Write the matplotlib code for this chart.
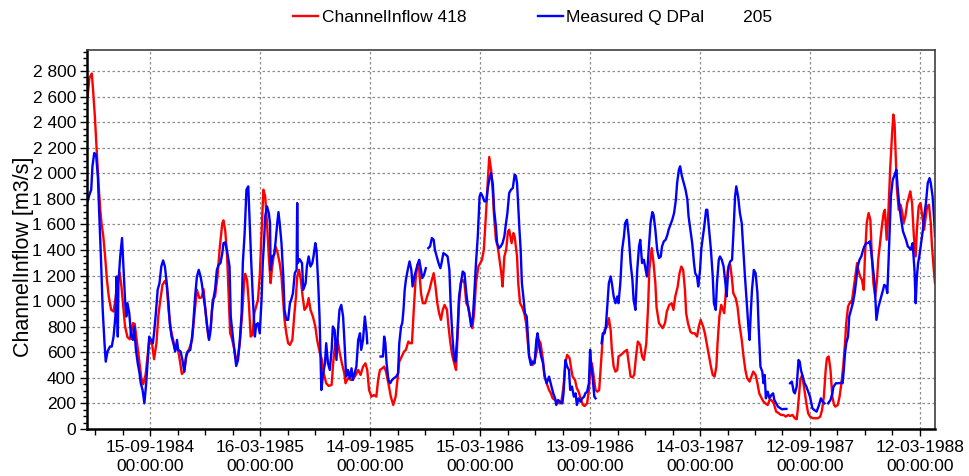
import matplotlib
matplotlib.use("Agg")
import matplotlib.pyplot as plt
import matplotlib.dates as mdates
import numpy as np
from matplotlib.ticker import FixedLocator, FuncFormatter, MultipleLocator

plt.rcParams["font.family"] = ["Liberation Sans", "DejaVu Sans"]

start = np.datetime64("1984-06-02")
end = np.datetime64("1988-04-06")
first_tick = np.datetime64("1984-09-15")

# day offsets from `start`, discharge in m3/s
red_day = [
    1, 4, 8, 10, 13, 16, 19, 22, 24, 27,
    30, 33, 36, 40, 44, 47, 51, 54, 57, 60,
    63, 67, 71, 76, 79, 83, 87, 90, 93, 97,
    100, 103, 108, 111, 115, 118, 121, 125, 129, 132,
    135, 139, 142, 146, 150, 154, 157, 161, 165, 169,
    174, 178, 182, 186, 190, 193, 197, 201, 205, 208,
    212, 216, 220, 224, 226, 229, 232, 235, 237, 239,
    243, 247, 250, 253, 257, 260, 262, 265, 268, 271,
    274, 277, 280, 283, 286, 289, 292, 295, 298, 301,
    304, 306, 309, 312, 315, 319, 322, 325, 327, 330,
    333, 336, 340, 343, 346, 348, 351, 354, 357, 360,
    364, 367, 370, 374, 378, 381, 385, 389, 392, 396,
    400, 405, 408, 411, 415, 418, 422, 426, 428, 432,
    437, 440, 445, 449, 453, 457, 461, 464, 467, 471,
    475, 479, 482, 485, 489, 492, 495, 499, 503, 507,
    511, 514, 517, 521, 525, 528, 532, 535, 538, 541,
    544, 547, 550, 553, 556, 560, 564, 567, 571, 574,
    577, 580, 583, 586, 589, 592, 596, 598, 601, 604,
    608, 611, 613, 616, 619, 622, 625, 628, 631, 634,
    638, 641, 644, 648, 651, 654, 657, 661, 664, 666,
    669, 672, 674, 677, 680, 683, 686, 688, 691, 694,
    697, 699, 703, 706, 708, 712, 714, 717, 720, 724,
    727, 730, 732, 735, 738, 741, 745, 748, 751, 755,
    757, 761, 765, 768, 771, 775, 778, 782, 785, 789,
    792, 795, 799, 802, 804, 808, 811, 814, 818, 821,
    824, 828, 831, 833, 836, 839, 842, 845, 848, 851,
    854, 857, 861, 864, 867, 869, 872, 875, 878, 880,
    884, 887, 890, 894, 897, 900, 903, 906, 909, 912,
    916, 919, 922, 926, 929, 931, 935, 938, 941, 943,
    947, 953, 957, 960, 964, 968, 971, 974, 978, 981,
    984, 987, 990, 992, 995, 999, 1002, 1006, 1010, 1013,
    1016, 1020, 1023, 1026, 1030, 1033, 1036, 1039, 1042, 1044,
    1047, 1050, 1053, 1055, 1058, 1061, 1065, 1068, 1070, 1074,
    1077, 1080, 1084, 1087, 1090, 1093, 1097, 1100, 1103, 1107,
    1110, 1113, 1117, 1120, 1123, 1127, 1130, 1133, 1137, 1141,
    1144, 1149, 1153, 1157, 1161, 1164, 1168, 1172, 1175, 1177,
    1181, 1184, 1187, 1191, 1194, 1197, 1202, 1206, 1210, 1214,
    1217, 1220, 1223, 1225, 1228, 1231, 1234, 1237, 1239, 1243,
    1246, 1249, 1252, 1255, 1257, 1260, 1264, 1266, 1269, 1272,
    1275, 1277, 1280, 1283, 1286, 1288, 1291, 1294, 1297, 1299,
    1302, 1305, 1308, 1310, 1313, 1316, 1319, 1321, 1324, 1327,
    1330, 1333, 1335, 1337, 1339, 1341, 1344, 1347, 1350, 1352,
    1355, 1358, 1361, 1363, 1366, 1369, 1372, 1374, 1377, 1380,
    1383, 1386, 1388, 1391, 1394, 1397, 1399, 1402, 1404,
]
red_q = [
    2603, 2747, 2781, 2655, 2447, 2185, 1924, 1715, 1611, 1507,
    1350, 1167, 1037, 932, 919, 1010, 1167, 1225, 1115, 958,
    802, 718, 702, 828, 822, 671, 514, 397, 350, 423,
    554, 692, 658, 546, 671, 880, 997, 1128, 1159, 1128,
    932, 775, 710, 619, 645, 527, 431, 449, 593, 624,
    697, 906, 1089, 1024, 1031, 1094, 880, 718, 789, 1010,
    1037, 1193, 1428, 1611, 1632, 1546, 1350, 984, 749, 723,
    645, 540, 567, 671, 906, 1141, 1214, 1167, 984, 723,
    736, 906, 958, 1010, 1193, 1533, 1872, 1820, 1611, 1350,
    1141, 1245, 1350, 1428, 1389, 1298, 1193, 984, 854, 749,
    671, 658, 697, 880, 1037, 1193, 1245, 1167, 1037, 932,
    958, 1024, 932, 880, 802, 697, 606, 540, 436, 358,
    337, 345, 540, 671, 697, 606, 514, 436, 358, 397,
    384, 384, 423, 462, 423, 488, 514, 462, 305, 253,
    266, 253, 384, 462, 475, 488, 449, 358, 253, 188,
    253, 384, 527, 567, 606, 619, 684, 671, 671, 932,
    1167, 1285, 1245, 1063, 984, 984, 1050, 1089, 1167, 1219,
    1115, 984, 906, 854, 932, 971, 932, 828, 697, 593,
    514, 462, 671, 984, 1141, 1167, 1141, 984, 958, 880,
    789, 906, 1141, 1271, 1298, 1324, 1402, 1715, 1977, 2128,
    2029, 1846, 1663, 1480, 1428, 1324, 1219, 1115, 1350, 1402,
    1546, 1559, 1454, 1533, 1507, 1350, 1141, 984, 958, 906,
    828, 671, 567, 540, 501, 527, 619, 697, 671, 540,
    423, 358, 305, 279, 240, 227, 214, 201, 201, 332,
    514, 580, 554, 462, 410, 384, 319, 292, 227, 188,
    180, 201, 305, 462, 514, 410, 305, 292, 305, 514,
    723, 775, 802, 867, 775, 619, 488, 449, 462, 567,
    580, 593, 606, 619, 514, 410, 405, 423, 567, 684,
    658, 567, 540, 671, 958, 1245, 1415, 1298, 1141, 950,
    828, 789, 828, 919, 971, 984, 932, 1037, 1115, 1219,
    1271, 1245, 1089, 906, 828, 762, 749, 749, 723, 802,
    854, 802, 749, 671, 567, 488, 423, 410, 488, 671,
    880, 971, 932, 906, 1089, 1245, 1285, 1167, 1063, 1024,
    958, 828, 697, 567, 462, 397, 371, 410, 449, 423,
    358, 279, 240, 214, 201, 188, 227, 227, 201, 136,
    128, 110, 110, 97, 110, 102, 110, 84, 76, 162,
    384, 423, 332, 201, 123, 97, 84, 84, 84, 97,
    149, 253, 462, 554, 567, 462, 253, 188, 175, 188,
    253, 358, 488, 671, 828, 958, 997, 984, 1089, 1193,
    1298, 1245, 1193, 1167, 1089, 1350, 1611, 1689, 1637, 1402,
    1141, 1037, 1167, 1324, 1454, 1585, 1689, 1715, 1480, 1715,
    2055, 2316, 2460, 2394, 2133, 1872, 1715, 1755, 1689, 1611,
    1663, 1768, 1820, 1859, 1768, 1507, 1350, 1559, 1741, 1768,
    1663, 1559, 1637, 1741, 1755, 1611, 1428, 1245, 1141,
]

nan = np.nan
blue_day = [
    1, 4, 7, 9, 12, 15, 18, 20, 23, 26,
    29, 31, 34, 38, 41, 44, 47, 49, 51, 52,
    55, 58, 60, 63, 65, 67, 70, 73, 76, 78,
    81, 84, 87, 89, 92, 95, 98, 101, 103, 106,
    109, 111, 114, 117, 120, 123, 126, 129, 132, 135,
    137, 140, 143, 146, 149, 151, 155, 158, 161, 164,
    167, 171, 174, 176, 179, 182, 185, 188, 190, 193,
    196, 199, 202, 204, 207, 210, 212, 215, 218, 221,
    224, 226, 229, 232, 236, 238, 242, 247, 250, 253,
    256, 258, 261, 264, 267, 269, 272, 275, 278, 280,
    283, 286, 289, 291, 293, 295, 298, 301, 303, 304,
    307, 310, 312, 315, 317, 319, 322, 325, 327, 330,
    333, 336, 338, 341, 344, 347, 348, 349, 352, 356,
    358, 362, 364, 367, 370, 373, 375, 378, 380, 383,
    385, 388, 391, 394, 396, 399, 402, 405, 407, 410,
    413, 416, 418, 421, 424, 427, 429, 432, 435, 438,
    440, 443, 446, 449, 452, 454, 457, 460, 463, 464,
    470, 486, 490, 492, 494, 496, 499, 502, 505, 508,
    512, 515, 517, 520, 522, 524, 526, 528, 531, 534,
    537, 539, 542, 545, 548, 550, 553, 555, 558, 561,
    563, 565, 568, 571, 574, 576, 579, 582, 585, 587,
    590, 594, 597, 600, 602, 605, 608, 610, 613, 616,
    619, 622, 625, 628, 630, 633, 636, 639, 641, 644,
    647, 650, 652, 655, 658, 661, 664, 666, 669, 672,
    674, 677, 679, 682, 685, 688, 691, 693, 696, 699,
    702, 705, 708, 710, 712, 714, 716, 718, 720, 723,
    725, 728, 730, 732, 735, 738, 741, 744, 746, 749,
    752, 755, 758, 761, 765, 769, 772, 775, 777, 780,
    783, 787, 789, 792, 795, 798, 800, 803, 806, 809,
    811, 814, 817, 820, 823, 825, 828, 831, 833, 835,
    837, 840, 842, 846, 852, 854, 857, 859, 861, 864,
    867, 869, 872, 875, 878, 880, 883, 886, 889, 891,
    894, 897, 900, 903, 905, 908, 911, 914, 916, 919,
    922, 925, 927, 930, 933, 936, 938, 941, 944, 947,
    950, 952, 955, 958, 961, 963, 967, 969, 972, 975,
    977, 980, 982, 985, 988, 991, 994, 996, 999, 1002,
    1005, 1007, 1010, 1012, 1015, 1017, 1019, 1022, 1025, 1027,
    1030, 1033, 1036, 1038, 1041, 1043, 1046, 1048, 1051, 1054,
    1057, 1059, 1062, 1065, 1068, 1070, 1073, 1075, 1078, 1081,
    1084, 1086, 1089, 1092, 1095, 1097, 1099, 1101, 1104, 1107,
    1110, 1112, 1115, 1118, 1120, 1122, 1124, 1127, 1130, 1133,
    1136, 1138, 1141, 1144, 1148, 1151, 1154, 1158, 1161, 1164,
    1167, 1170, 1172, 1175, 1178, 1180, 1182, 1185, 1188, 1191,
    1193, 1197, 1201, 1204, 1208, 1212, 1215, 1218, 1221, 1224,
    1227, 1231, 1234, 1236, 1240, 1245, 1249, 1251, 1253, 1255,
    1257, 1260, 1262, 1265, 1268, 1271, 1273, 1276, 1279, 1282,
    1285, 1287, 1290, 1293, 1296, 1298, 1301, 1304, 1306, 1307,
    1310, 1312, 1315, 1318, 1320, 1323, 1325, 1327, 1329, 1331,
    1334, 1337, 1340, 1342, 1345, 1348, 1351, 1353, 1356, 1359,
    1362, 1364, 1367, 1370, 1372, 1374, 1376, 1378, 1381, 1384,
    1386, 1389, 1392, 1395, 1397, 1400, 1403, 1404,
]
blue_q = [
    1781, 1833, 1872, 2055, 2159, 2146, 1977, 1715, 1350, 932,
    671, 527, 606, 645, 645, 723, 880, 1193, 723, 1141,
    1350, 1494, 1298, 1010, 880, 984, 906, 723, 697, 802,
    619, 514, 436, 358, 305, 201, 358, 567, 723, 697,
    671, 749, 906, 1089, 1141, 1271, 1319, 1271, 1141, 984,
    828, 723, 671, 606, 697, 619, 606, 540, 449, 567,
    606, 619, 723, 828, 1037, 1193, 1245, 1193, 1141, 1037,
    932, 802, 697, 749, 932, 1037, 1089, 1245, 1285, 1298,
    1376, 1454, 1460, 1389, 1271, 880, 697, 493, 540, 697,
    906, 1298, 1533, 1872, 1898, 1663, 1298, 984, 723, 815,
    828, 749, 1010, 1298, 1454, 1663, 1742, 1689, 1611, 1245,
    1350, 1363, 1454, 1611, 1697, 1611, 1454, 1193, 932, 854,
    854, 984, 1010, 1063, 1219, 1245, 1768, 1298, 1329, 1298,
    1089, 1141, 1271, 1350, 1271, 1298, 1350, 1454, 1402, 1115,
    880, 305, 436, 514, 671, 514, 462, 619, 802, 775,
    540, 802, 932, 971, 880, 619, 410, 462, 397, 475,
    384, 436, 488, 697, 749, 619, 697, 880, 749, 671,
    nan, 567, 567, 723, 671, 514, 384, 358, 384, 397,
    410, 436, 671, 802, 828, 932, 1089, 1167, 1245, 1311,
    1245, 1115, 1193, 1245, 1298, 1324, 1245, 1180, 1206, 1258,
    nan, 1415, 1428, 1494, 1480, 1402, 1350, 1298, 1258, 1298,
    1376, 1363, 1350, 1245, 984, 723, 540, 527, 723, 1037,
    1141, 1232, 1219, 1063, 984, 906, 802, 880, 1037, 1298,
    1507, 1820, 1846, 1820, 1781, 1781, 1898, 1950, 2003, 1911,
    1715, 1585, 1454, 1415, 1428, 1454, 1507, 1585, 1689, 1846,
    1872, 1885, 1990, 1980, 1924, 1742, 1559, 1402, 1141, 1010,
    906, 880, 723, 567, 501, 527, 514, 697, 749, 645,
    567, 514, 410, 358, 410, 332, 279, 240, 188, 227,
    214, 201, 279, 540, 488, 462, 305, 332, 253, 279,
    188, 240, 214, 240, 253, 279, 292, 358, 619, 488,
    410, 253, 240, nan, 671, 749, 749, 802, 932, 1141,
    1193, 1141, 1037, 984, 1037, 984, 1141, 1402, 1507, 1611,
    1637, 1507, 1298, 1167, 1010, 932, 1245, 1428, 1480, 1298,
    1324, 1245, 1193, 1402, 1611, 1697, 1676, 1559, 1402, 1337,
    1350, 1428, 1468, 1480, 1520, 1559, 1611, 1637, 1689, 1794,
    1924, 2029, 2055, 1977, 1924, 1872, 1794, 1663, 1559, 1454,
    1298, 1219, 1193, 1115, 1245, 1402, 1480, 1585, 1715, 1715,
    1559, 1402, 1193, 984, 932, 1141, 1324, 1350, 1324, 1271,
    1141, 1037, 1271, 1311, 1324, 1507, 1820, 1898, 1820, 1689,
    1611, 1454, 1219, 1010, 802, 697, 906, 1089, 1245, 1219,
    1063, 802, 488, 449, 358, 423, 240, 292, 240, 266,
    279, 227, 201, 175, 162, 154, 157, 157, nan, 358,
    371, 292, 279, 332, 540, 527, 462, 410, 358, 332,
    305, 253, 162, 149, 136, 188, 240, 214, 201, nan,
    201, 227, 279, 332, 358, 358, 363, 358, 462, 593,
    671, 723, 880, 932, 984, 1063, 1141, 1271, 1324, 1350,
    1402, 1428, 1454, 1454, 1468, 1402, 1271, 1141, 947, 854,
    947, 984, 1037, 1089, 1128, 1115, 1063, 1298, 1559, 1820,
    1950, 1985, 2029, 1898, 1742, 1637, 1546, 1520, 1480, 1428,
    1415, 1402, 1454, 1245, 984, 1193, 1298, 1350, 1454, 1559,
    1663, 1768, 1924, 1963, 1924, 1820, 1611, 1507,
]

red_label = "ChannelInflow 418"
blue_label = "Measured Q DPal        205"
y_label = "ChannelInflow [m3/s]"

red_t = start + np.array(red_day).astype("timedelta64[D]")
blue_t = start + np.array(blue_day).astype("timedelta64[D]")

fig = plt.figure(figsize=(9.69, 4.76), dpi=100)
ax = fig.add_axes([87 / 969, 47 / 476, 848 / 969, 379 / 476])

line_red, = ax.plot(red_t, red_q, color="#ff0000", lw=1.7)
line_blue, = ax.plot(blue_t, blue_q, color="#0000ff", lw=1.7)

ax.set_xlim(start, end)
ax.set_ylim(0, 2965)

major = first_tick + np.arange(8) * np.timedelta64(182, "D")
minor = first_tick + np.arange(-2, 29) * np.timedelta64(1092, "h")
ax.xaxis.set_major_locator(FixedLocator(mdates.date2num(major)))
ax.xaxis.set_minor_locator(FixedLocator(mdates.date2num(minor)))
ax.xaxis.set_major_formatter(mdates.DateFormatter("%d-%m-%Y\n%H:%M:%S"))

ax.yaxis.set_major_locator(MultipleLocator(200))
ax.yaxis.set_minor_locator(MultipleLocator(50))
ax.yaxis.set_major_formatter(FuncFormatter(lambda v, p: f"{v:,.0f}".replace(",", " ")))

ax.grid(True, which="major", color="#8c8c8c", linestyle=(0, (2, 2)), linewidth=0.9)

for side in ["left", "bottom"]:
    ax.spines[side].set_linewidth(1.8)
    ax.spines[side].set_color("black")
for side in ["top", "right"]:
    ax.spines[side].set_linewidth(1.2)
    ax.spines[side].set_color("#404040")

ax.tick_params(axis="both", which="major", length=5, width=1, labelsize=12.5, pad=3)
ax.tick_params(axis="x", which="minor", length=4, width=1)
ax.tick_params(axis="y", which="minor", length=3, width=1)
for lbl in ax.get_xticklabels():
    lbl.set_linespacing(1.35)

ax.set_ylabel(y_label, fontsize=15.5)
ax.yaxis.set_label_coords(-0.062, 0.455)

fig.legend([line_red, line_blue], [red_label, blue_label], loc="center left",
           bbox_to_anchor=(293 / 969, 1 - 17 / 476), ncol=2, frameon=False,
           fontsize=12.5, handlelength=1.44, handletextpad=0.23, columnspacing=4.09,
           borderpad=0, borderaxespad=0)

fig.savefig("out.png", dpi=100)
